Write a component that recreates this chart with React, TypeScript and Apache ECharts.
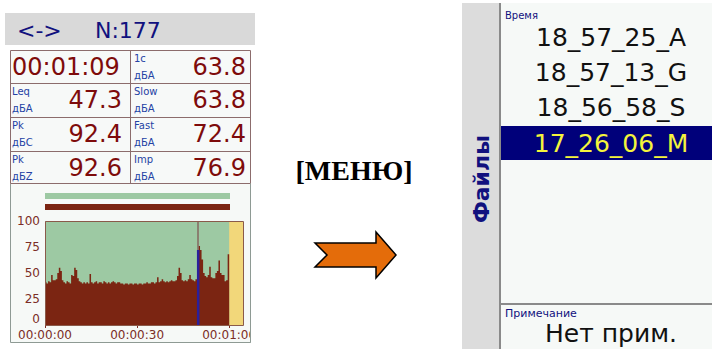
import React, { useEffect, useRef } from 'react';
import * as echarts from 'echarts';

// ---- data ----
const levels = [
  41, 40, 42, 41, 48, 43, 43, 44, 50, 55, 52, 43, 41, 40, 42, 41, 40, 48, 47, 55,
  53, 45, 42, 41, 40, 41, 40, 41, 40, 49, 41, 40, 41, 42, 40, 41, 41, 40, 42, 41,
  40, 41, 40, 41, 42, 41, 40, 41, 41, 40, 40, 39, 40, 40, 39, 40, 40, 39, 40, 40,
  39, 40, 40, 39, 40, 40, 41, 40, 40, 41, 41, 40, 41, 46, 41, 42, 44, 42, 41, 42,
  41, 42, 43, 42, 42, 43, 47, 55, 50, 43, 42, 43, 42, 44, 48, 44, 43, 42, 44, 43,
  76, 72, 63, 50, 47, 46, 48, 56, 46, 45, 45, 50, 52, 62, 50, 48, 48, 42, 43, 68,
];
const stepSec = 0.5;
const recordedEnd = 60;
const xMax = 64.5;
const xTickValues = [0, 30, 60];
const yMax = 100;
const yInterval = 25;
const cursorTime = 49.9;
const cursorLevel = 72;

const headerLeft = '<->';
const headerRight = 'N:177';
const clockText = '00:01:09';
const leftCells = [
  { label: 'Leq', unit: 'дБА', value: '47.3' },
  { label: 'Pk', unit: 'дБC', value: '92.4' },
  { label: 'Pk', unit: 'дБZ', value: '92.6' },
];
const rightCells = [
  { label: '1c', unit: 'дБА', value: '63.8' },
  { label: 'Slow', unit: 'дБА', value: '63.8' },
  { label: 'Fast', unit: 'дБА', value: '72.4' },
  { label: 'Imp', unit: 'дБА', value: '76.9' },
];
const menuText = '[МЕНЮ]';
const sideTitle = 'Файлы';
const listTitle = 'Время';
const files = ['18_57_25_A', '18_57_13_G', '18_56_58_S', '17_26_06_M'];
const selectedFile = 3;
const noteTitle = 'Примечание';
const noteText = 'Нет прим.';

function fmtTime(s: number): string {
  const h = Math.floor(s / 3600);
  const m = Math.floor((s % 3600) / 60);
  const sec = Math.floor(s % 60);
  const p = (n: number) => String(n).padStart(2, '0');
  return `${p(h)}:${p(m)}:${p(sec)}`;
}

const FONT = '"DejaVu Sans"';
const VAL_COLOR = '#7e0b0b';
const LABEL_COLOR = '#2442a4';
const NAVY = '#11117e';
const GREEN = '#9dc9a3';
const BROWN = '#7b2512';
const AXIS_COLOR = '#7b2d26';

function buildGraphic() {
  const els: any[] = [];
  const txt = (x: number, y: number, text: string, font: string, fill: string, align = 'left', extra: any = {}) =>
    els.push({
      type: 'text', x, y, ...extra,
      style: { text, font, fill, textAlign: align, textVerticalAlign: 'middle' },
    });

  // header
  els.push({ type: 'rect', shape: { x: 5, y: 13, width: 250, height: 32 }, style: { fill: '#d9d9d9' } });
  txt(17, 30, headerLeft, `22px ${FONT}`, NAVY);
  txt(95, 30, headerRight, `22px ${FONT}`, NAVY);

  // chart panel
  els.push({ type: 'rect', shape: { x: 10.5, y: 183.5, width: 240, height: 159 }, style: { fill: '#f6f9f7', stroke: '#8e9a94', lineWidth: 1 } });
  els.push({ type: 'rect', shape: { x: 45, y: 193, width: 185, height: 6 }, style: { fill: GREEN } });
  els.push({ type: 'rect', shape: { x: 45, y: 204, width: 185, height: 6 }, style: { fill: BROWN } });
  els.push({ type: 'rect', shape: { x: 45, y: 221, width: 198, height: 104 }, style: { fill: GREEN } });

  // table
  const rows = [50, 83, 117, 151, 183];
  els.push({ type: 'rect', shape: { x: 10.5, y: 50.5, width: 240, height: 133 }, style: { fill: '#f7f9f8', stroke: '#8c6c6c', lineWidth: 1 } });
  [83, 117, 151].forEach((y) =>
    els.push({ type: 'line', shape: { x1: 10.5, y1: y + 0.5, x2: 250.5, y2: y + 0.5 }, style: { stroke: '#8c6c6c', lineWidth: 1 } }));
  els.push({ type: 'line', shape: { x1: 130.5, y1: 50.5, x2: 130.5, y2: 183.5 }, style: { stroke: '#8c6c6c', lineWidth: 1 } });
  txt(12, rows[0] + 17, clockText, `24px ${FONT}`, VAL_COLOR);
  leftCells.forEach((c, i) => {
    const top = rows[i + 1];
    txt(12, top + 8, c.label, `10px ${FONT}`, LABEL_COLOR);
    txt(12, top + 25, c.unit, `10px ${FONT}`, LABEL_COLOR);
    txt(122, top + 17, c.value, `24px ${FONT}`, VAL_COLOR, 'right');
  });
  rightCells.forEach((c, i) => {
    const top = rows[i];
    txt(134, top + 8, c.label, `10px ${FONT}`, LABEL_COLOR);
    txt(134, top + 25, c.unit, `10px ${FONT}`, LABEL_COLOR);
    txt(246, top + 17, c.value, `24px ${FONT}`, VAL_COLOR, 'right');
  });

  // overlays above the chart
  els.push({ type: 'rect', z: 100, shape: { x: 45.5, y: 221.5, width: 198, height: 104 }, style: { fill: 'none', stroke: '#8a5a4a', lineWidth: 1 } });
  els.push({ type: 'rect', z: 100, shape: { x: 251, y: 326, width: 30, height: 20 }, style: { fill: '#ffffff' } });
  els.push({ type: 'line', z: 101, shape: { x1: 250.5, y1: 183.5, x2: 250.5, y2: 342.5 }, style: { stroke: '#8e9a94', lineWidth: 1 } });

  // middle
  txt(354, 170, menuText, `bold 28px "Liberation Serif"`, '#000000', 'center');
  els.push({
    type: 'polygon',
    shape: { points: [[315, 243], [376, 243], [376, 232], [396, 255], [376, 278], [376, 267], [315, 267], [327, 255]] },
    style: { fill: '#e46c0a', stroke: '#000000', lineWidth: 1.5 },
  });

  // right screen
  els.push({ type: 'rect', shape: { x: 462, y: 3, width: 37, height: 346 }, style: { fill: '#dcdcdc' } });
  els.push({ type: 'rect', shape: { x: 501, y: 3, width: 211, height: 346 }, style: { fill: '#f6f9f7' } });
  els.push({ type: 'line', shape: { x1: 500, y1: 3, x2: 500, y2: 349 }, style: { stroke: '#8a8a8a', lineWidth: 2 } });
  txt(481, 179, sideTitle, `bold 22px ${FONT}`, NAVY, 'center', { rotation: Math.PI / 2 });
  txt(505, 15, listTitle, `10px ${FONT}`, NAVY);
  const rowY = [37, 72, 107, 143];
  files.forEach((f, i) => {
    if (i === selectedFile) {
      els.push({ type: 'rect', shape: { x: 501, y: rowY[i] - 17, width: 211, height: 34 }, style: { fill: '#00007a' } });
    }
    txt(611, rowY[i], f, `25px ${FONT}`, i === selectedFile ? '#f4f43c' : '#111111', 'center');
  });
  els.push({ type: 'line', shape: { x1: 501, y1: 304, x2: 712, y2: 304 }, style: { stroke: '#8a8a8a', lineWidth: 2 } });
  txt(505, 313, noteTitle, `11px ${FONT}`, NAVY);
  txt(611, 333, noteText, `25px ${FONT}`, '#111111', 'center');
  return els;
}

export default function App() {
  const ref = useRef<HTMLDivElement>(null);
  useEffect(() => {
    if (!ref.current) return;
    const chart = echarts.init(ref.current, undefined, { renderer: 'svg' });
    const areaData: number[][] = levels.map((v, i) => [i * stepSec, v]);
    areaData.push([recordedEnd, levels[levels.length - 1]]);
    chart.setOption({
      animation: false,
      backgroundColor: '#ffffff',
      graphic: { elements: buildGraphic() },
      grid: { left: 45, top: 221, width: 198, height: 104, show: false },
      xAxis: {
        type: 'value', min: 0, max: xMax,
        axisLine: { show: false },
        splitLine: { show: false },
        axisTick: { show: true, customValues: xTickValues, length: 3, lineStyle: { color: AXIS_COLOR } },
        axisLabel: { customValues: xTickValues, formatter: (v: number) => fmtTime(v), color: AXIS_COLOR, fontSize: 12, fontFamily: 'DejaVu Sans', margin: 4 },
      },
      yAxis: {
        type: 'value', min: 0, max: yMax, interval: yInterval,
        axisLine: { show: false }, axisTick: { show: false }, splitLine: { show: false },
        axisLabel: { color: AXIS_COLOR, fontSize: 12, fontFamily: 'DejaVu Sans', margin: 5, verticalAlignMinLabel: 'bottom' },
      },
      series: [
        {
          type: 'line', step: 'end', symbol: 'none', data: areaData,
          lineStyle: { width: 0 },
          areaStyle: { color: BROWN, opacity: 1 },
          markArea: { silent: true, itemStyle: { color: '#f2d77a', opacity: 1 }, data: [[{ xAxis: recordedEnd }, { xAxis: xMax }]] },
          markLine: { silent: true, symbol: ['none', 'none'], label: { show: false }, lineStyle: { color: '#85675f', width: 1.5, type: 'solid' }, data: [{ xAxis: cursorTime }] },
        },
        {
          type: 'line', symbol: 'none', z: 5,
          data: [[cursorTime, 0], [cursorTime, cursorLevel]],
          lineStyle: { color: '#2b1f9c', width: 2.5 },
        },
      ],
    });
    return () => chart.dispose();
  }, []);
  return <div ref={ref} style={{ position: 'absolute', left: 0, top: 0, width: 712, height: 349 }} />;
}
